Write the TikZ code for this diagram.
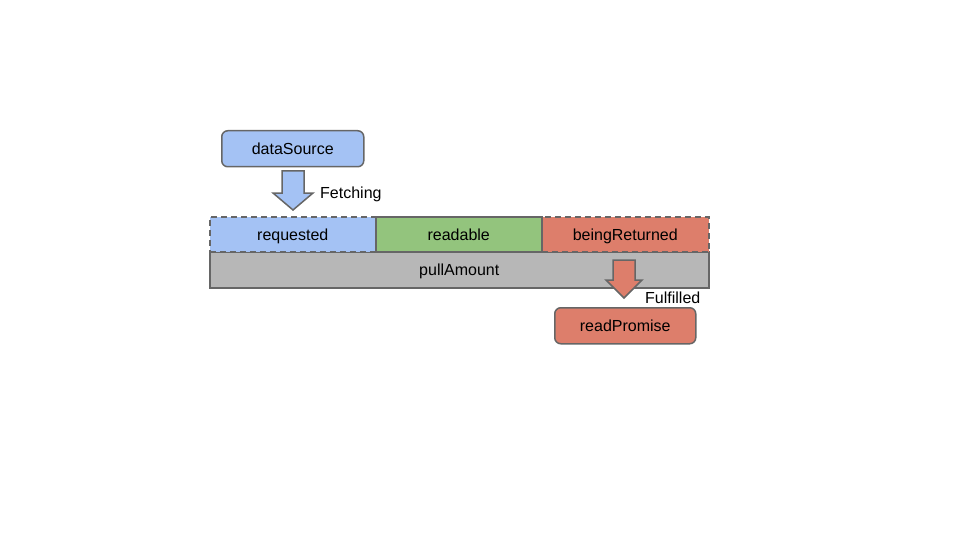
\documentclass[tikz,border=0pt]{standalone}
\usepackage{fontspec}
\setmainfont{Liberation Sans}
\definecolor{cblue}{HTML}{A4C2F4}
\definecolor{cgreen}{HTML}{93C47D}
\definecolor{cred}{HTML}{DD7E6B}
\definecolor{cgray}{HTML}{B7B7B7}
\definecolor{cline}{HTML}{666666}
\begin{document}
\begin{tikzpicture}[x=1pt,y=-1pt,
  lbl/.style={font=\fontsize{16}{18}\selectfont, text=black, text height=12.5pt, text depth=0.5pt},
  bar/.style={draw=cline, line width=1.5pt},
  rbox/.style={draw=cline, line width=1.5pt, rounded corners=6pt},
  bigarrow/.style={draw=cline, line width=1.5pt, line join=miter}]
\useasboundingbox (0,0) rectangle (960,540);
% pullAmount
\node[bar, fill=cgray, minimum width=499pt, minimum height=36pt, anchor=north west, inner sep=0pt, lbl] (pull) at (209,251) {pullAmount};
% requested
\node[bar, dashed, dash pattern=on 6pt off 4pt, fill=cblue, minimum width=166pt, minimum height=35pt, anchor=north west, inner sep=0pt, lbl] (req) at (209,216) {requested};
% beingReturned
\node[bar, dashed, dash pattern=on 6pt off 4pt, fill=cred, minimum width=167pt, minimum height=35pt, anchor=north west, inner sep=0pt, lbl] (ret) at (541,216) {beingReturned};
% readable
\node[bar, fill=cgreen, minimum width=166pt, minimum height=35pt, anchor=north west, inner sep=0pt, lbl] (read) at (375,216) {readable};
% dataSource
\node[rbox, fill=cblue, minimum width=142pt, minimum height=36pt, anchor=north west, inner sep=0pt, lbl] (ds) at (221,130) {dataSource};
% readPromise
\node[rbox, fill=cred, minimum width=141pt, minimum height=36pt, anchor=north west, inner sep=0pt, lbl] (rp) at (554,307) {readPromise};
% arrows
\coordinate (a1) at (293,210);
\draw[bigarrow, fill=cblue] (282,171) -- (304,171) -- (304,193) -- (313,193) -- (a1) -- (273,193) -- (282,193) -- cycle;
\node[lbl, anchor=west, inner sep=0pt] (fetch) at (320,192) {Fetching};
\coordinate (a2) at (624,298);
\draw[bigarrow, fill=cred] (613,260) -- (635,260) -- (635,280) -- (642,280) -- (a2) -- (606,280) -- (613,280) -- cycle;
\node[lbl, anchor=west, inner sep=0pt] (ful) at (645,297) {Fulfilled};
\end{tikzpicture}
\end{document}
